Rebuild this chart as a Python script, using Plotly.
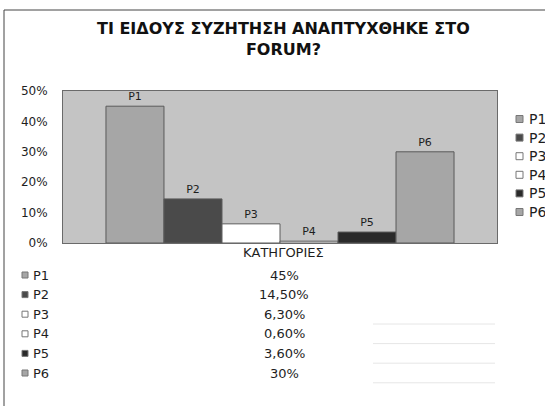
import plotly.graph_objects as go

categories = ["ΚΑΤΗΓΟΡΙΕΣ"]
series_names = ["P1", "P2", "P3", "P4", "P5", "P6"]
series_values = [45, 14.5, 6.3, 0.6, 3.6, 30]
value_labels = ["45%", "14,50%", "6,30%", "0,60%", "3,60%", "30%"]
y_ticks = [0, 10, 20, 30, 40, 50]
y_tick_labels = ["0%", "10%", "20%", "30%", "40%", "50%"]
title_text = "ΤΙ ΕΙΔΟΥΣ ΣΥΖΗΤΗΣΗ ΑΝΑΠΤΥΧΘΗΚΕ ΣΤΟ<br>FORUM?"
colors = ["#a6a6a6", "#4a4a4a", "#ffffff", "#ffffff", "#2a2a2a", "#a6a6a6"]

W, H = 545, 406
L, R, T, B = 63, 497, 91, 243
FONT = "DejaVu Sans, Verdana, Arial"
TXT = "#1e1e1e"


def px(x):
    return (x - L) / (R - L)


def py(y):
    return (B - y) / (B - T)


fig = go.Figure()
for name, val, col in zip(series_names, series_values, colors):
    fig.add_trace(go.Bar(
        x=categories, y=[val], name=name, marker_color=col,
        marker_line_color="#5a5a5a", marker_line_width=1,
        text=[name], textposition="outside", cliponaxis=False,
        textfont=dict(size=11, color=TXT, family=FONT),
        showlegend=False,
    ))

shapes = []
annotations = []
# outer border (top and left)
shapes.append(dict(type="line", xref="paper", yref="paper", x0=px(4), x1=px(546), y0=py(10), y1=py(10),
                   line=dict(color="#444444", width=1)))
shapes.append(dict(type="line", xref="paper", yref="paper", x0=px(4), x1=px(4), y0=py(10), y1=py(407),
                   line=dict(color="#444444", width=1)))

# legend on the right
for i, (name, col) in enumerate(zip(series_names, colors)):
    yc = 119 + 18.6 * i
    shapes.append(dict(type="rect", xref="paper", yref="paper",
                       x0=px(516), x1=px(523), y0=py(yc + 3.5), y1=py(yc - 3.5),
                       fillcolor=col, line=dict(color="#777777", width=1)))
    annotations.append(dict(xref="paper", yref="paper", x=px(527), y=py(yc), text=name,
                            showarrow=False, xanchor="left", yanchor="middle",
                            font=dict(size=14, color=TXT, family=FONT)))

# data table below
for i, (name, lab, col) in enumerate(zip(series_names, value_labels, colors)):
    yc = 275 + 19.6 * i
    shapes.append(dict(type="rect", xref="paper", yref="paper",
                       x0=px(22), x1=px(28), y0=py(yc + 3), y1=py(yc - 3),
                       fillcolor=col, line=dict(color="#777777", width=1)))
    annotations.append(dict(xref="paper", yref="paper", x=px(31), y=py(yc), text=name,
                            showarrow=False, xanchor="left", yanchor="middle",
                            font=dict(size=13, color=TXT, family=FONT)))
    annotations.append(dict(xref="paper", yref="paper", x=px(284), y=py(yc), text=lab,
                            showarrow=False, xanchor="center", yanchor="middle",
                            font=dict(size=13, color=TXT, family=FONT)))
    if i >= 2:
        shapes.append(dict(type="line", xref="paper", yref="paper", x0=px(373), x1=px(495),
                           y0=py(yc + 9.8), y1=py(yc + 9.8), line=dict(color="#e6e6e6", width=1)))

# x-axis caption
annotations.append(dict(xref="paper", yref="paper", x=px(283), y=py(252), text=categories[0],
                        showarrow=False, xanchor="center", yanchor="middle",
                        font=dict(size=13, color=TXT, family=FONT)))

# title
annotations.append(dict(xref="paper", yref="paper", x=px(283), y=py(39.5), text="<b>" + title_text + "</b>",
                        showarrow=False, xanchor="center", yanchor="middle",
                        font=dict(size=16, color="#111111", family=FONT)))

fig.update_layout(
    width=W, height=H,
    margin=dict(l=L, r=W - R, t=T, b=H - B),
    paper_bgcolor="white", plot_bgcolor="#c4c4c4",
    barmode="group", bargap=0.198, bargroupgap=0,
    showlegend=False,
    xaxis=dict(showticklabels=False, showline=True, mirror=True, linecolor="#6a6a6a",
               ticks="", showgrid=False),
    yaxis=dict(range=[0, 50], tickvals=y_ticks, ticktext=y_tick_labels, showgrid=False,
               showline=True, mirror=True, linecolor="#6a6a6a", ticks="", ticklabelstandoff=12,
               zeroline=False,
               tickfont=dict(size=12, color=TXT, family=FONT)),
    shapes=shapes, annotations=annotations,
    font=dict(family=FONT),
)

fig.write_html("out.html", config={"displayModeBar": False},
               post_script="document.body.style.margin='0';")
